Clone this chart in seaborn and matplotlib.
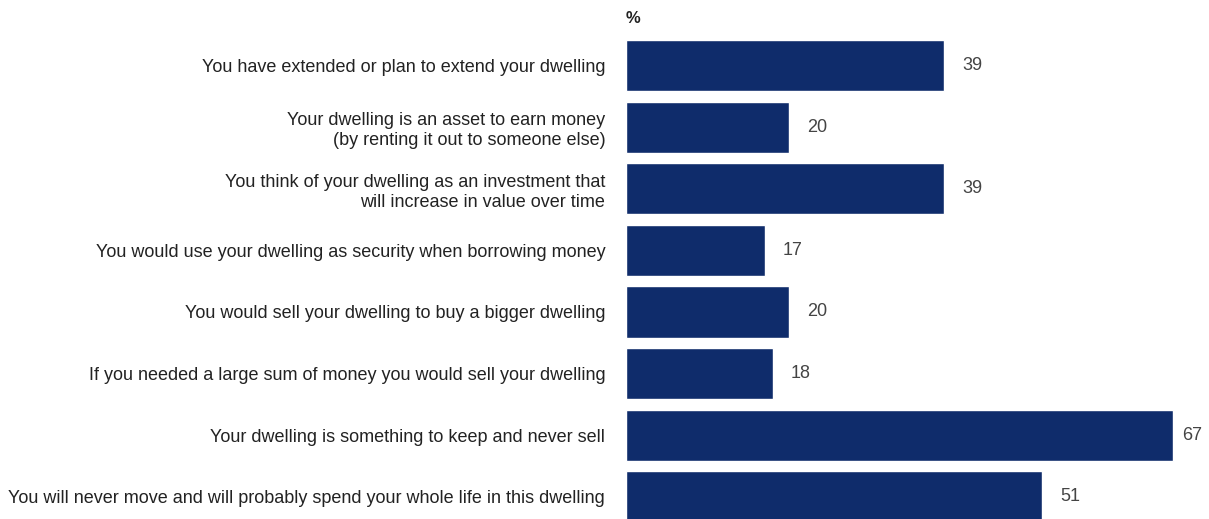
import matplotlib
matplotlib.use("Agg")
import matplotlib.pyplot as plt
import seaborn as sns
import pandas as pd

statements = [
    "You have extended or plan to extend your dwelling",
    "Your dwelling is an asset to earn money\n(by renting it out to someone else)",
    "You think of your dwelling as an investment that\nwill increase in value over time",
    "You would use your dwelling as security when borrowing money",
    "You would sell your dwelling to buy a bigger dwelling",
    "If you needed a large sum of money you would sell your dwelling",
    "Your dwelling is something to keep and never sell",
    "You will never move and will probably spend your whole life in this dwelling",
]
shares = [39, 20, 39, 17, 20, 18, 67, 51]
unit_label = "%"

sns.set_theme(style="white")
plt.rcParams["font.family"] = ["Liberation Sans", "DejaVu Sans"]

df = pd.DataFrame({"statement": statements, "share": shares})

W, H = 1209, 519
fig = plt.figure(figsize=(W / 100, H / 100), dpi=100)
ax_left = 626 / W
ax_top_px = 34.7
ax = fig.add_axes([ax_left, 0, 1 - ax_left, (H - ax_top_px) / H])

navy = "#0f2c6b"
sns.barplot(data=df, y="statement", x="share", orient="h", color=navy,
            width=0.83, saturation=1, ax=ax)

xmax = (W - 626) / 8.16
ax.set_xlim(0, xmax)
ax.set_ylim(7.36, -0.5)

# value labels sit just right of each bar; the longest bar's label is
# pulled in so it stays inside the figure
gap, label_w = 2.2, 3.2
for i, v in enumerate(shares):
    x = v + gap
    if x + label_w > xmax:
        x = xmax - label_w - 0.05
    ax.text(x, i, f"{v}", va="center", ha="left", fontsize=13, color="#444444")

ax.set_xlabel("")
ax.set_ylabel("")
ax.set_xticks([])
ax.tick_params(axis="y", length=0, pad=15, labelsize=13, labelcolor="#222222")
for lbl in ax.get_yticklabels():
    lbl.set_horizontalalignment("right")
    lbl.set_multialignment("right")
    lbl.set_linespacing(1.25)
for s in ax.spines.values():
    s.set_visible(False)

fig.text(626 / W, 1 - 18.5 / H, unit_label, ha="left", va="center",
         fontsize=12, fontweight="bold", color="#222222")

fig.savefig("out.png", dpi=100)
